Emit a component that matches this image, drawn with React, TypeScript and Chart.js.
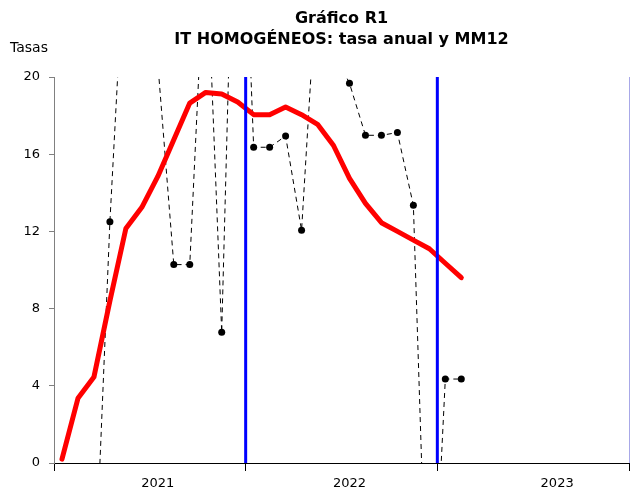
import React, { useEffect, useRef } from 'react';
import { Chart, registerables } from 'chart.js';

Chart.register(...registerables);

// ---- Data ----
const years = ['2021', '2022', '2023'];
const monthNames = ['ene', 'feb', 'mar', 'abr', 'may', 'jun', 'jul', 'ago', 'sep', 'oct', 'nov', 'dic'];
const categories = years.flatMap((y) => monthNames.map((m) => `${m}-${y.slice(2)}`));
// month index under which each year label is written
const yearLabelIndex = [6, 18, 31];

// MM12 (media móvil 12 meses) – red thick line
const mm12 = [
  0.2, 3.35, 4.45, 8.4, 12.15, 13.25, 14.85, 16.75, 18.65, 19.2, 19.12, 18.7,
  18.05, 18.05, 18.45, 18.05, 17.55, 16.45, 14.75, 13.45, 12.45, 12.0, 11.55, 11.1,
  10.35, 9.6,
];

// Tasa anual – black dashed line with dots (values outside 0–20 are clipped)
const tasaAnual = [
  null, null, -7.5, 12.5, 28.0, 25.0, 20.7, 10.28, 10.28, 27.7, 6.77, 38.0,
  16.36, 16.36, 16.94, 12.06, 25.7, 21.4, 19.67, 16.98, 16.98, 17.12, 13.35, -12.5,
  4.35, 4.35,
];

// year boundaries marked with blue vertical lines (index of first month of year)
const blueBoundaries = [12, 24];

const titleLines = ['Gráfico R1', 'IT HOMOGÉNEOS: tasa anual y MM12'];
const yAxisTitle = 'Tasas';
const yMin = 0;
const yMax = 20;
const yStep = 4;

const FONT = '"DejaVu Sans", Verdana, sans-serif';

const textPlugin = {
  id: 'textPlugin',
  afterDraw(chart: any) {
    const ctx = chart.ctx;
    const area = chart.chartArea;
    ctx.save();
    ctx.fillStyle = '#000';
    ctx.textBaseline = 'middle';
    ctx.textAlign = 'center';
    ctx.font = `bold 16px ${FONT}`;
    const cx = (area.left + area.right) / 2;
    ctx.fillText(titleLines[0], cx, 19);
    ctx.fillText(titleLines[1], cx, 40);
    ctx.textAlign = 'left';
    ctx.font = `14px ${FONT}`;
    ctx.fillText(yAxisTitle, 10, 48);
    ctx.restore();
  },
};

const yearLinesPlugin = {
  id: 'yearLines',
  afterDatasetsDraw(chart: any) {
    const ctx = chart.ctx;
    const area = chart.chartArea;
    const xs = chart.scales.x;
    ctx.save();
    // right border of plot area (light)
    ctx.strokeStyle = '#a8a8e8';
    ctx.lineWidth = 1;
    ctx.beginPath();
    ctx.moveTo(area.right + 0.5, area.top);
    ctx.lineTo(area.right + 0.5, area.bottom);
    ctx.stroke();
    // blue year lines
    ctx.strokeStyle = '#0000FF';
    ctx.lineWidth = 3;
    for (const b of blueBoundaries) {
      const px = (xs.getPixelForValue(b - 1) + xs.getPixelForValue(b)) / 2;
      ctx.beginPath();
      ctx.moveTo(px, area.top);
      ctx.lineTo(px, area.bottom);
      ctx.stroke();
    }
    ctx.restore();
  },
};

export default function App() {
  const canvasRef = useRef<HTMLCanvasElement | null>(null);

  useEffect(() => {
    if (!canvasRef.current) return;
    Chart.defaults.font.family = FONT;
    const chart = new Chart(canvasRef.current, {
      type: 'line',
      data: {
        labels: categories,
        datasets: [
          {
            label: 'Tasa anual',
            data: tasaAnual,
            borderColor: '#000000',
            backgroundColor: '#000000',
            borderWidth: 1,
            borderDash: [5, 4],
            pointRadius: 3.5,
            pointBorderWidth: 0,
            pointBackgroundColor: '#000000',
            tension: 0,
            spanGaps: false,
            order: 2,
          },
          {
            label: 'MM12',
            data: mm12,
            borderColor: '#FF0000',
            backgroundColor: '#FF0000',
            borderWidth: 5,
            pointRadius: 0,
            borderJoinStyle: 'round',
            borderCapStyle: 'round',
            tension: 0,
            order: 1,
          },
        ],
      },
      options: {
        responsive: false,
        animation: false,
        devicePixelRatio: 1,
        layout: { autoPadding: false, padding: { top: 77, right: 1, left: 0, bottom: 0 } },
        plugins: {
          legend: { display: false },
          title: { display: false },
          tooltip: { enabled: false },
        },
        scales: {
          x: {
            type: 'category',
            offset: true,
            grid: {
              offset: true,
              drawOnChartArea: false,
              drawTicks: true,
              tickLength: 8,
              lineWidth: 1,
              color: (ctx: any) =>
                ctx.index === undefined || ctx.index % 12 === 0 ? '#000000' : 'rgba(0,0,0,0)',
            },
            border: { color: '#000000', width: 1 },
            ticks: {
              autoSkip: false,
              maxRotation: 0,
              minRotation: 0,
              padding: 5,
              color: '#000000',
              font: { family: FONT, size: 13 },
              callback: (_v: any, index: number) => {
                const k = yearLabelIndex.indexOf(index);
                return k >= 0 ? years[k] : '';
              },
            },
            afterFit: (s: any) => {
              s.height = 27;
              s.paddingLeft = 0;
              s.paddingRight = 0;
            },
          },
          y: {
            type: 'linear',
            min: yMin,
            max: yMax,
            grid: {
              drawOnChartArea: false,
              drawTicks: true,
              tickLength: 5,
              color: '#808080',
            },
            border: { color: '#808080', width: 1 },
            ticks: {
              stepSize: yStep,
              padding: 9,
              color: '#000000',
              font: { family: FONT, size: 13 },
            },
            afterFit: (s: any) => {
              s.width = 54;
            },
          },
        },
      },
      plugins: [textPlugin, yearLinesPlugin],
    });
    return () => chart.destroy();
  }, []);

  return (
    <div style={{ position: 'fixed', left: 0, top: 0, width: 630, height: 490, background: '#fff' }}>
      <canvas ref={canvasRef} width={630} height={490} style={{ display: 'block' }} />
    </div>
  );
}
